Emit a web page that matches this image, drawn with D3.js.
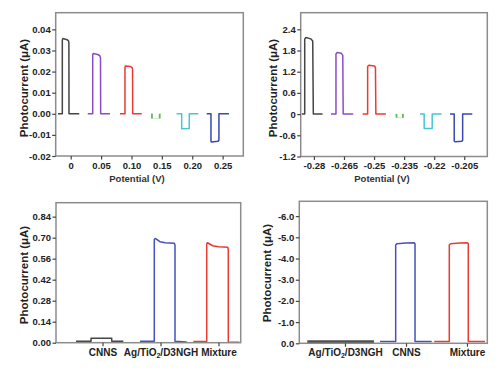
<!DOCTYPE html>
<html>
<head>
<meta charset="utf-8">
<script src="https://cdn.jsdelivr.net/npm/d3@7"></script>
<style>
  body { margin: 0; background: #fff; }
  svg { display: block; font-family: "Liberation Sans", Arial, sans-serif; }
  .tick text { font-weight: bold; fill: #222; }
</style>
</head>
<body>
<svg id="chart" width="500" height="375"></svg>
<script>
// ---- tick labels ----
const p1XTicks = [0, 0.05, 0.10, 0.15, 0.20, 0.25];
const p1XLabels = ["0", "0.05", "0.10", "0.15", "0.20", "0.25"];
const p1YTicks = [0.04, 0.03, 0.02, 0.01, 0, -0.01, -0.02];
const p1YLabels = ["0.04", "0.03", "0.02", "0.01", "0.00", "-0.01", "-0.02"];

const p2XTicks = [-0.28, -0.265, -0.25, -0.235, -0.22, -0.205];
const p2XLabels = ["-0.28", "-0.265", "-0.25", "-0.235", "-0.22", "-0.205"];
const p2YTicks = [2.4, 1.8, 1.2, 0.6, 0, -0.6, -1.2];
const p2YLabels = ["2.4", "1.8", "1.2", "0.6", "0", "-0.6", "-1.2"];

const p3Categories = ["CNNS", "Ag/TiO2/D3NGH", "Mixture"];
const p3YTicks = [0.84, 0.70, 0.56, 0.42, 0.28, 0.14, 0];
const p3YLabels = ["0.84", "0.70", "0.56", "0.42", "0.28", "0.14", "0.00"];

const p4Categories = ["Ag/TiO2/D3NGH", "CNNS", "Mixture"];
const p4YTicks = [-6, -5, -4, -3, -2, -1, 0];
const p4YLabels = ["-6.0", "-5.0", "-4.0", "-3.0", "-2.0", "-1.0", "0.0"];

// ---- traces, [x, photocurrent] ----
// panel 1: potential (V)
const p1Black  = [[-0.0209,0],[-0.0138,0],[-0.0138,0.0350],[-0.0128,0.0357],[-0.0060,0.0351],[-0.0036,0.0346],[-0.0030,0.0336],[-0.0028,0],[0.0141,0]];
const p1Purple = [[0.0280,0],[0.0362,0],[0.0362,0.0280],[0.0372,0.0286],[0.0445,0.0281],[0.0480,0.0275],[0.0490,0.0264],[0.0493,0],[0.0646,0]];
const p1Red    = [[0.0811,0],[0.0893,0],[0.0893,0.0221],[0.0903,0.0227],[0.0985,0.0224],[0.1012,0.0219],[0.1018,0.0210],[0.1020,0],[0.1168,0]];
const p1Green  = [[0.1316,0],[0.1337,0],[0.1337,-0.0022],[0.1464,-0.0022],[0.1464,0],[0.1485,0]];
const p1Cyan   = [[0.1743,0],[0.1826,0],[0.1826,-0.0071],[0.1951,-0.0070],[0.1951,0],[0.2099,0]];
const p1Blue   = [[0.2237,0],[0.2308,0],[0.2308,-0.0131],[0.2318,-0.0134],[0.2425,-0.0130],[0.2439,-0.0124],[0.2439,0],[0.2604,0]];

// panel 2: potential (V)
const p2Black  = [[-0.2860,0],[-0.2846,0],[-0.2846,2.12],[-0.2840,2.17],[-0.2816,2.13],[-0.2806,2.07],[-0.2803,0],[-0.2757,0]];
const p2Purple = [[-0.2715,0],[-0.2690,0],[-0.2690,1.70],[-0.2684,1.746],[-0.2663,1.72],[-0.2656,1.66],[-0.2654,0],[-0.2604,0]];
const p2Red    = [[-0.2557,0],[-0.2532,0],[-0.2532,1.35],[-0.2526,1.385],[-0.2498,1.36],[-0.2493,1.32],[-0.2491,0],[-0.2441,0]];
const p2Green  = [[-0.2396,0],[-0.2388,0],[-0.2388,-0.10],[-0.2356,-0.10],[-0.2356,0],[-0.2351,0]];
const p2Cyan   = [[-0.2271,0],[-0.2250,0],[-0.2250,-0.41],[-0.2210,-0.41],[-0.2210,0],[-0.2163,0]];
const p2Blue   = [[-0.2121,0],[-0.2100,0],[-0.2100,-0.76],[-0.2095,-0.785],[-0.2062,-0.77],[-0.2058,-0.74],[-0.2058,0],[-0.2010,0]];

// panel 3: category index (1..3)
const p3Black = [[0.543,0.009],[0.802,0.009],[0.802,0.030],[1.159,0.030],[1.159,0.009],[1.359,0.009]];
const p3Blue  = [[1.647,0.010],[1.893,0.010],[1.893,0.688],[1.910,0.695],[1.990,0.673],[2.080,0.666],[2.240,0.662],[2.250,0.650],[2.250,0.010],[2.452,0.005]];
const p3Red   = [[2.566,0.008],[2.797,0.008],[2.797,0.658],[2.810,0.666],[2.900,0.646],[3.000,0.640],[3.160,0.636],[3.169,0.620],[3.169,0.005],[3.359,0.003]];

// panel 4: category index (1..3)
const p4Gray = [[0.382,-0.08],[1.475,-0.08]];
const p4Blue = [[1.574,-0.08],[1.831,-0.08],[1.831,-4.64],[1.850,-4.70],[2.000,-4.73],[2.130,-4.75],[2.148,-4.70],[2.148,-0.08],[2.421,-0.08]];
const p4Red  = [[2.464,-0.08],[2.710,-0.08],[2.710,-4.64],[2.730,-4.70],[2.880,-4.73],[3.000,-4.75],[3.021,-4.70],[3.021,-0.08],[3.295,-0.08]];

const colors = {
  black: "#454545",
  purple: "#8a4cc8",
  red: "#ea3b32",
  green: "#5bbf4f",
  cyan: "#48c4d4",
  blue: "#3b48ae",
  blue2: "#4651bd"
};

const svg = d3.select("#chart");

const panels = [
  {
    frame: { x0: 55.7, x1: 243.3, y0: 12.7, y1: 156 },
    xDomain: [-0.0247, 0.284], yDomain: [-0.02, 0.0479],
    xTicks: p1XTicks, xLabels: p1XLabels, yTicks: p1YTicks, yLabels: p1YLabels,
    yTitle: { x: 24, y: 88 }, xTitle: { text: "Potential (V)", x: 137, y: 182 },
    traces: [
      { d: p1Black, c: colors.black }, { d: p1Purple, c: colors.purple },
      { d: p1Red, c: colors.red }, { d: p1Green, c: colors.green, faint: true },
      { d: p1Cyan, c: colors.cyan }, { d: p1Blue, c: colors.blue }
    ]
  },
  {
    frame: { x0: 300.7, x1: 487.3, y0: 12.7, y1: 156.5 },
    xDomain: [-0.2866, -0.1935], yDomain: [-1.2, 2.87],
    xTicks: p2XTicks, xLabels: p2XLabels, yTicks: p2YTicks, yLabels: p2YLabels,
    yTitle: { x: 273, y: 88 }, xTitle: { text: "Potential (V)", x: 382, y: 182 },
    traces: [
      { d: p2Black, c: colors.black }, { d: p2Purple, c: colors.purple },
      { d: p2Red, c: colors.red }, { d: p2Green, c: colors.green, faint: true },
      { d: p2Cyan, c: colors.cyan }, { d: p2Blue, c: colors.blue }
    ]
  },
  {
    frame: { x0: 56, x1: 240.7, y0: 202.7, y1: 342.7 },
    xDomain: [0.198, 3.383], yDomain: [0, 0.933],
    xTicks: [1, 2, 3], xLabels: p3Categories, yTicks: p3YTicks, yLabels: p3YLabels,
    yTitle: { x: 24, y: 275 }, xTitle: null,
    traces: [
      { d: p3Black, c: colors.black }, { d: p3Blue, c: colors.blue2 }, { d: p3Red, c: colors.red }
    ]
  },
  {
    frame: { x0: 299.3, x1: 487.3, y0: 201.3, y1: 343.3 },
    xDomain: [0.251, 3.333], yDomain: [0, -6.7],
    xTicks: [1, 2, 3], xLabels: p4Categories, yTicks: p4YTicks, yLabels: p4YLabels,
    yTitle: { x: 267, y: 273 }, xTitle: null,
    traces: [
      { d: p4Gray, c: "#505050", w: 2.6 }, { d: p4Blue, c: colors.blue2 }, { d: p4Red, c: colors.red }
    ]
  }
];

function subscriptTiO2(text) {
  text.each(function() {
    let t = d3.select(this);
    let s = t.text();
    if (s.indexOf("TiO2") < 0) return;
    t.text(null);
    t.append("tspan").text("Ag/TiO");
    t.append("tspan").attr("font-size", "7px").attr("dy", "2").text("2");
    t.append("tspan").attr("dy", "-2").text("/D3NGH");
  });
}

for (let p of panels) {
  let f = p.frame;
  let x = d3.scaleLinear().domain(p.xDomain).range([f.x0, f.x1]);
  let y = d3.scaleLinear().domain(p.yDomain).range([f.y1, f.y0]);
  let g = svg.append("g");

  // traces
  let line = d3.line().x(d => x(d[0])).y(d => y(d[1]));
  for (let t of p.traces) {
    if (t.faint) {
      // green trace: only the short vertical edges show clearly
      g.append("path").attr("d", line(t.d))
        .attr("fill", "none").attr("stroke", "#d9eed6").attr("stroke-width", 1.2);
      let edges = [[t.d[1], t.d[2]], [t.d[3], t.d[4]]];
      for (let e of edges) {
        g.append("path").attr("d", line(e))
          .attr("fill", "none").attr("stroke", t.c).attr("stroke-width", 1.8);
      }
    } else {
      g.append("path").attr("d", line(t.d))
        .attr("fill", "none").attr("stroke", t.c)
        .attr("stroke-width", t.w || 1.5)
        .attr("stroke-linejoin", "round");
    }
  }

  // frame
  g.append("rect")
    .attr("x", f.x0).attr("y", f.y0)
    .attr("width", f.x1 - f.x0).attr("height", f.y1 - f.y0)
    .attr("fill", "none").attr("stroke", "#8c8c8c").attr("stroke-width", 1.5);

  // axes
  let xAxis = d3.axisBottom(x).tickValues(p.xTicks)
    .tickFormat((d, i) => p.xLabels[i]).tickSize(3.5).tickPadding(2.5);
  let gx = g.append("g").attr("transform", `translate(0, ${f.y1})`).call(xAxis);
  gx.select(".domain").remove();
  gx.selectAll(".tick line").attr("stroke", "#444").attr("stroke-width", 1.2);
  gx.selectAll(".tick text")
    .attr("font-size", p.xTitle ? "9.5px" : "10px")
    .attr("font-family", "'Liberation Sans', Arial, sans-serif")
    .call(subscriptTiO2);

  let yAxis = d3.axisLeft(y).tickValues(p.yTicks)
    .tickFormat((d, i) => p.yLabels[i]).tickSize(3.5).tickPadding(1.5);
  let gy = g.append("g").attr("transform", `translate(${f.x0}, 0)`).call(yAxis);
  gy.select(".domain").remove();
  gy.selectAll(".tick line").attr("stroke", "#444").attr("stroke-width", 1.2);
  gy.selectAll(".tick text")
    .attr("font-size", "9.5px")
    .attr("font-family", "'Liberation Sans', Arial, sans-serif");

  // titles
  g.append("text")
    .attr("transform", `translate(${p.yTitle.x}, ${p.yTitle.y}) rotate(-90)`)
    .attr("text-anchor", "middle")
    .attr("dy", "0.35em")
    .attr("font-size", "11.5px").attr("font-weight", "bold").attr("fill", "#222")
    .text("Photocurrent (\u03bcA)");

  if (p.xTitle) {
    g.append("text")
      .attr("x", p.xTitle.x).attr("y", p.xTitle.y)
      .attr("text-anchor", "middle")
      .attr("font-size", "9.5px").attr("font-weight", "bold").attr("fill", "#333")
      .text(p.xTitle.text);
  }
}
</script>
</body>
</html>
